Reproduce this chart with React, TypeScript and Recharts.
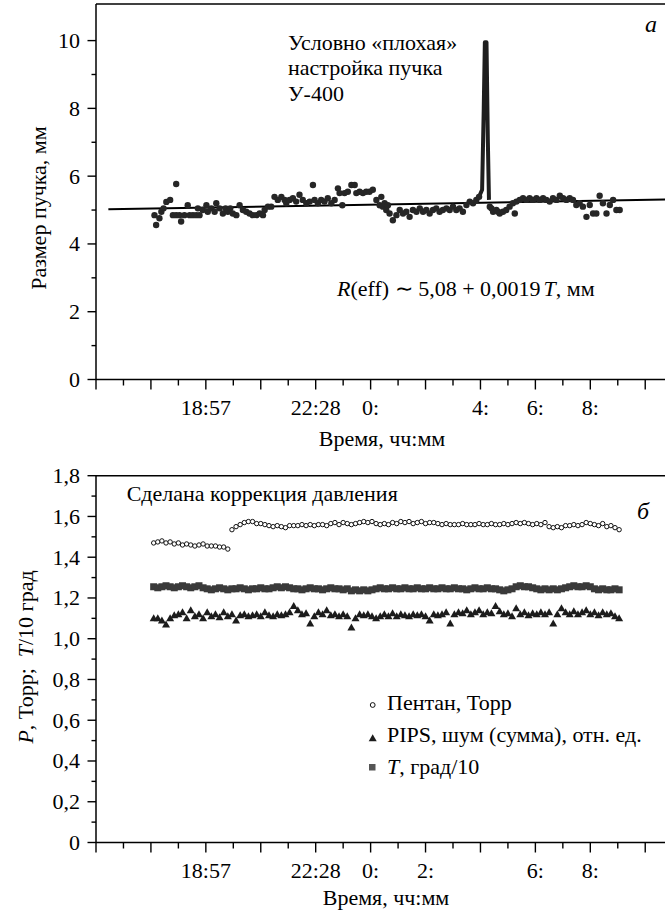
import React from 'react';
import { ComposedChart, Scatter, Line, XAxis, YAxis, ReferenceLine } from 'recharts';

const FONT = 'Liberation Serif';

// ---------- Panel a: beam size ----------
// [time (h from 14:00), beam size (mm)]
const beamPoints: [number, number][] = [
  [2.13, 4.85], [2.19, 4.56], [2.31, 4.76], [2.38, 4.95], [2.46, 5.05], [2.56, 5.24], [2.70, 5.3],
  [2.80, 4.85], [2.92, 5.77], [2.92, 4.85], [3.04, 4.85], [3.10, 4.66], [3.22, 4.85], [3.34, 5.14],
  [3.41, 4.85], [3.53, 4.85], [3.65, 4.85], [3.71, 5.05], [3.77, 4.85], [3.89, 5.0], [4.02, 5.14],
  [4.07, 4.95], [4.20, 5.05], [4.32, 4.95], [4.38, 5.2], [4.50, 5.05], [4.62, 4.9], [4.72, 5.05],
  [4.80, 4.95], [4.89, 5.05], [4.98, 4.9], [5.11, 4.85], [5.23, 5.14], [5.35, 5.0], [5.47, 4.95],
  [5.59, 4.9], [5.71, 4.85], [5.84, 4.85], [5.96, 4.9], [6.08, 4.85], [6.14, 5.0], [6.26, 5.1],
  [6.38, 5.1], [6.50, 5.39], [6.62, 5.3], [6.75, 5.39], [6.87, 5.3], [6.93, 5.2], [7.05, 5.3],
  [7.17, 5.35], [7.29, 5.25], [7.41, 5.45], [7.53, 5.3], [7.66, 5.2], [7.78, 5.25], [7.90, 5.74],
  [7.96, 5.3], [8.08, 5.2], [8.20, 5.3], [8.32, 5.25], [8.44, 5.35], [8.57, 5.2], [8.69, 5.3],
  [8.81, 5.64], [8.87, 5.5], [8.97, 5.14], [9.05, 5.5], [9.17, 5.54], [9.30, 5.74], [9.42, 5.74],
  [9.48, 5.5], [9.60, 5.54], [9.72, 5.5], [9.84, 5.54], [9.96, 5.54], [10.08, 5.6], [10.21, 5.3],
  [10.33, 5.14], [10.39, 5.39], [10.45, 5.1], [10.51, 5.2], [10.57, 5.0], [10.63, 5.14], [10.69, 4.9],
  [10.81, 4.7], [10.94, 4.85], [11.06, 5.0], [11.18, 4.9], [11.30, 4.95], [11.42, 4.8], [11.54, 5.0],
  [11.67, 4.95], [11.79, 5.05], [11.91, 4.95], [12.03, 5.0], [12.15, 4.9], [12.27, 5.0], [12.39, 5.05],
  [12.51, 4.95], [12.63, 5.0], [12.76, 5.05], [12.88, 5.0], [13.00, 5.1], [13.12, 5.0], [13.24, 5.05],
  [13.36, 4.95], [13.49, 5.15], [13.61, 5.25], [13.73, 5.2], [13.85, 5.3], [13.95, 5.39],
  [14.34, 5.1], [14.40, 5.05], [14.46, 4.95], [14.58, 5.0], [14.64, 4.95], [14.70, 4.9], [14.82, 4.95],
  [14.94, 5.0], [15.06, 5.1], [15.18, 5.2], [15.25, 4.9], [15.31, 5.25], [15.43, 5.3], [15.55, 5.35],
  [15.67, 5.3], [15.79, 5.35], [15.91, 5.3], [16.04, 5.35], [16.16, 5.3], [16.28, 5.35], [16.40, 5.3],
  [16.52, 5.25], [16.64, 5.35], [16.77, 5.3], [16.89, 5.42], [17.01, 5.35], [17.13, 5.3], [17.25, 5.35],
  [17.37, 5.3], [17.49, 5.15], [17.61, 5.2], [17.73, 5.1], [17.86, 4.8], [17.98, 5.15], [18.10, 4.9],
  [18.22, 4.9], [18.34, 5.42], [18.46, 5.2], [18.59, 4.9], [18.71, 5.15], [18.83, 5.3], [18.95, 5.0],
  [19.07, 5.0],
];
const spikeTimes = [13.95, 14.06, 14.12, 14.16, 14.22, 14.27, 14.31];
const spikeValues = [5.39, 5.6, 8.0, 9.95, 9.95, 7.0, 5.3];
const trendTimes = [0.45, 20.72];
const trendValues = [5.02, 5.31];

// ---------- Panel б: pressure / noise / temperature ----------
const sampleTimes = [
  2.10, 2.25, 2.40, 2.55, 2.70, 2.85, 3.00, 3.15, 3.30, 3.45, 3.60, 3.75, 3.90, 4.05, 4.20, 4.35, 4.50, 4.65, 4.80, 4.95,
  5.10, 5.25, 5.40, 5.55, 5.70, 5.85, 6.00, 6.15, 6.30, 6.45, 6.60, 6.75, 6.90, 7.05, 7.20, 7.35, 7.50, 7.65, 7.80, 7.95,
  8.10, 8.25, 8.40, 8.55, 8.70, 8.85, 9.00, 9.15, 9.30, 9.45, 9.60, 9.75, 9.90, 10.05, 10.20, 10.35, 10.50, 10.65, 10.80, 10.95,
  11.10, 11.25, 11.40, 11.55, 11.70, 11.85, 12.00, 12.15, 12.30, 12.45, 12.60, 12.75, 12.90, 13.05, 13.20, 13.35, 13.50, 13.65, 13.80, 13.95,
  14.10, 14.25, 14.40, 14.55, 14.70, 14.85, 15.00, 15.15, 15.30, 15.45, 15.60, 15.75, 15.90, 16.05, 16.20, 16.35, 16.50, 16.65, 16.80, 16.95,
  17.10, 17.25, 17.40, 17.55, 17.70, 17.85, 18.00, 18.15, 18.30, 18.45, 18.60, 18.75, 18.90, 19.05,
];
const pentaneValues = [
  1.47, 1.475, 1.48, 1.47, 1.475, 1.465, 1.47, 1.46, 1.465, 1.46, 1.455, 1.46, 1.465, 1.455, 1.455, 1.455, 1.45, 1.45, 1.44,
  1.535, 1.55, 1.56, 1.57, 1.575, 1.575, 1.565, 1.565, 1.56, 1.555, 1.55, 1.555, 1.55, 1.545, 1.555, 1.555,
  1.555, 1.56, 1.555, 1.56, 1.555, 1.56, 1.56, 1.555,
  1.565, 1.57, 1.56, 1.57, 1.565, 1.56, 1.565,
  1.57, 1.575, 1.57, 1.575,
  1.565, 1.56, 1.565, 1.56, 1.57, 1.565,
  1.575, 1.57, 1.575,
  1.565, 1.57, 1.575, 1.565, 1.57, 1.57,
  1.565, 1.56, 1.565, 1.56, 1.56, 1.56, 1.565, 1.56, 1.56, 1.56, 1.565, 1.56,
  1.56, 1.565, 1.56, 1.56, 1.565, 1.56, 1.565,
  1.57, 1.565, 1.57, 1.565,
  1.56, 1.565, 1.56, 1.57,
  1.55, 1.545, 1.55, 1.545,
  1.555, 1.555, 1.56, 1.555, 1.56,
  1.57, 1.565, 1.56,
  1.555, 1.565, 1.55, 1.555,
  1.545, 1.535,
];
const pipsValues = [
  1.10, 1.10, 1.09, 1.07, 1.10, 1.115, 1.12, 1.13, 1.10, 1.14,
  1.11, 1.12, 1.10, 1.13, 1.11, 1.12, 1.105, 1.13, 1.11, 1.12,
  1.09, 1.115, 1.12, 1.11, 1.115, 1.12, 1.11, 1.13, 1.115, 1.11,
  1.12, 1.115, 1.12, 1.13, 1.16, 1.14, 1.12, 1.125, 1.075, 1.11,
  1.13, 1.12, 1.14, 1.115, 1.12, 1.11, 1.12, 1.11, 1.055, 1.10,
  1.12, 1.115, 1.12, 1.11, 1.10, 1.11, 1.12, 1.11, 1.125, 1.11,
  1.12, 1.115, 1.11, 1.12, 1.115, 1.12, 1.11, 1.09, 1.12, 1.115,
  1.12, 1.13, 1.075, 1.12, 1.13, 1.125, 1.14, 1.12, 1.13, 1.14,
  1.12, 1.13, 1.125, 1.16, 1.135, 1.12, 1.125, 1.11, 1.15, 1.12,
  1.13, 1.115, 1.125, 1.12, 1.13, 1.12, 1.13, 1.075, 1.12, 1.15,
  1.13, 1.12, 1.135, 1.12, 1.13, 1.14, 1.12, 1.13, 1.115, 1.13,
  1.12, 1.125, 1.11, 1.10,
];
const tempValues = [
  1.255, 1.25, 1.255, 1.26, 1.255, 1.25, 1.255, 1.26, 1.255, 1.25, 1.255, 1.26, 1.25,
  1.245, 1.24, 1.245, 1.25, 1.245, 1.24, 1.245, 1.245, 1.25, 1.245, 1.24, 1.245, 1.245, 1.25, 1.245, 1.245,
  1.25, 1.255, 1.25, 1.255, 1.25,
  1.245, 1.245, 1.24, 1.245, 1.25, 1.245, 1.245, 1.24, 1.245, 1.25, 1.245, 1.245, 1.24, 1.245,
  1.235, 1.24, 1.235, 1.24, 1.235, 1.24,
  1.245, 1.25, 1.245, 1.245, 1.25, 1.245, 1.245, 1.25, 1.245, 1.245,
  1.25, 1.245, 1.245, 1.25, 1.245, 1.245, 1.25, 1.245, 1.245, 1.25,
  1.245, 1.245, 1.24, 1.245, 1.25, 1.245, 1.245, 1.25, 1.245, 1.245,
  1.24, 1.235, 1.24, 1.245,
  1.255, 1.26, 1.255, 1.255, 1.25,
  1.245, 1.24, 1.245, 1.24, 1.245, 1.24, 1.245,
  1.25, 1.255, 1.26, 1.255, 1.255, 1.26, 1.255,
  1.245, 1.24, 1.245, 1.24, 1.24, 1.245, 1.24,
];

// ---------- Axes ----------
const xTicks = [0, 1, 2, 3, 4, 5, 6, 7, 8, 9, 10, 11, 12, 13, 14, 15, 16, 17, 18, 19, 20];
const xLabelsTop = ['', '', '', '', '18:57', '', '', '', '22:28', '', '0:', '', '', '', '4:', '', '6:', '', '8:', '', ''];
const xLabelsBottom = ['', '', '', '', '18:57', '', '', '', '22:28', '', '0:', '', '2:', '', '', '', '6:', '', '8:', '', ''];
const X_DOMAIN: [number, number] = [0, 20.72];

const yTicksTop = [0, 1, 2, 3, 4, 5, 6, 7, 8, 9, 10];
const yLabelsTop = ['0', '', '2', '', '4', '', '6', '', '8', '', '10'];
const Y_TOP_DOMAIN: [number, number] = [0, 11.08];

const yTicksBottom = [0, 0.1, 0.2, 0.3, 0.4, 0.5, 0.6, 0.7, 0.8, 0.9, 1.0, 1.1, 1.2, 1.3, 1.4, 1.5, 1.6, 1.7, 1.8];
const yLabelsBottom = ['0', '', '0,2', '', '0,4', '', '0,6', '', '0,8', '', '1,0', '', '1,2', '', '1,4', '', '1,6', '', '1,8'];
const Y_BOTTOM_DOMAIN: [number, number] = [0, 1.8];

const beamData = beamPoints.map(([h, v]) => ({ h, v }));
const spikeData = spikeTimes.map((h, i) => ({ h, v: spikeValues[i] }));
const trendData = trendTimes.map((h, i) => ({ h, v: trendValues[i] }));
const pentaneData = sampleTimes.map((h, i) => ({ h, v: pentaneValues[i] }));
const pipsData = sampleTimes.map((h, i) => ({ h, v: pipsValues[i] }));
const tempData = sampleTimes.map((h, i) => ({ h, v: tempValues[i] }));

const makeXTick = (labels: string[]) => (props: any) => {
  const { x, y, payload } = props;
  const i = xTicks.indexOf(payload.value);
  const major = i % 2 === 0;
  const label = labels[i] || '';
  return (
    <g>
      <line x1={x} x2={x} y1={y} y2={y + (major ? 10 : 6)} stroke="#000" strokeWidth={1.4} />
      {label ? (
        <text x={x} y={y + 35} textAnchor="middle" fontFamily={FONT} fontSize={22} fill="#000">
          {label}
        </text>
      ) : null}
    </g>
  );
};

const makeYTick = (ticks: number[], labels: string[]) => (props: any) => {
  const { x, y, payload } = props;
  const i = ticks.findIndex((t) => Math.abs(t - payload.value) < 1e-6);
  const major = i % 2 === 0;
  const label = labels[i] || '';
  return (
    <g>
      <line x1={x} x2={x - (major ? 8.5 : 4.5)} y1={y} y2={y} stroke="#000" strokeWidth={1.4} />
      {label ? (
        <text x={x - 16} y={y + 7.5} textAnchor="end" fontFamily={FONT} fontSize={22} fill="#000">
          {label}
        </text>
      ) : null}
    </g>
  );
};

const Dot = (p: any) => <circle cx={p.cx} cy={p.cy} r={3.2} fill="#262626" />;
const OpenCircle = (p: any) => (
  <circle cx={p.cx} cy={p.cy} r={2.2} fill="#fff" stroke="#111" strokeWidth={1} />
);
const Tri = (p: any) => (
  <polygon
    points={`${p.cx},${p.cy - 4} ${p.cx + 4},${p.cy + 3} ${p.cx - 4},${p.cy + 3}`}
    fill="#1c1c1c"
  />
);
const Sq = (p: any) => <rect x={p.cx - 3.5} y={p.cy - 3.5} width={7} height={7} fill="#3a3a3a" />;

const axisLine = { stroke: '#000', strokeWidth: 1.5 };

// HTML text placed by its baseline (serif metrics: ascent ~0.891em with line-height 1)
function HText(props: {
  x: number;
  baseline: number;
  size?: number;
  italic?: boolean;
  center?: boolean;
  children: React.ReactNode;
}) {
  const size = props.size || 22;
  const top = props.baseline - size * 0.838;
  return (
    <div
      style={{
        position: 'absolute',
        left: props.x,
        top,
        fontFamily: FONT,
        fontSize: size,
        lineHeight: `${size}px`,
        fontStyle: props.italic ? 'italic' : 'normal',
        whiteSpace: 'nowrap',
        color: '#000',
        transform: props.center ? 'translateX(-50%)' : undefined,
      }}
    >
      {props.children}
    </div>
  );
}

// vertical (rotated) HTML text: baselineX is where the baseline lies, cy its centre
function VText(props: { baselineX: number; cy: number; children: React.ReactNode }) {
  const size = 22;
  const cx = props.baselineX - size * 0.338;
  return (
    <div
      style={{
        position: 'absolute',
        left: cx,
        top: props.cy,
        fontFamily: FONT,
        fontSize: size,
        lineHeight: `${size}px`,
        whiteSpace: 'nowrap',
        color: '#000',
        transform: 'translate(-50%, -50%) rotate(-90deg)',
      }}
    >
      {props.children}
    </div>
  );
}

const I = (p: { children: React.ReactNode }) => <span style={{ fontStyle: 'italic' }}>{p.children}</span>;

export default function App() {
  return (
    <div style={{ position: 'absolute', left: 0, top: 0, width: 665, height: 919, background: '#fff' }}>
      <div style={{ position: 'absolute', left: 0, top: 0 }}>
        <ComposedChart width={665} height={450} margin={{ top: 4, right: 0, bottom: 0, left: 0 }}>
          <XAxis
            dataKey="h"
            type="number"
            domain={X_DOMAIN}
            ticks={xTicks}
            interval={0}
            height={70.5}
            tickSize={0}
            tickMargin={0}
            tickLine={false}
            axisLine={axisLine}
            tick={makeXTick(xLabelsTop)}
            allowDataOverflow
          />
          <YAxis
            dataKey="v"
            type="number"
            domain={Y_TOP_DOMAIN}
            ticks={yTicksTop}
            interval={0}
            width={96}
            tickSize={0}
            tickMargin={0}
            tickLine={false}
            axisLine={axisLine}
            tick={makeYTick(yTicksTop, yLabelsTop)}
            allowDataOverflow
          />
          <ReferenceLine y={Y_TOP_DOMAIN[1]} stroke="#000" strokeWidth={1.5} />
          <Line data={trendData} dataKey="v" stroke="#000" strokeWidth={2} dot={false} isAnimationActive={false} />
          <Scatter data={beamData} dataKey="v" shape={Dot} isAnimationActive={false} />
          <Line
            data={spikeData}
            dataKey="v"
            stroke="#1e1e1e"
            strokeWidth={4}
            strokeLinejoin="round"
            dot={false}
            isAnimationActive={false}
          />
        </ComposedChart>
      </div>
      <div style={{ position: 'absolute', left: 0, top: 450 }}>
        <ComposedChart width={665} height={469} margin={{ top: 25.7, right: 0, bottom: 0, left: 0 }}>
          <XAxis
            dataKey="h"
            type="number"
            domain={X_DOMAIN}
            ticks={xTicks}
            interval={0}
            height={76.5}
            tickSize={0}
            tickMargin={0}
            tickLine={false}
            axisLine={axisLine}
            tick={makeXTick(xLabelsBottom)}
            allowDataOverflow
          />
          <YAxis
            dataKey="v"
            type="number"
            domain={Y_BOTTOM_DOMAIN}
            ticks={yTicksBottom}
            interval={0}
            width={96}
            tickSize={0}
            tickMargin={0}
            tickLine={false}
            axisLine={axisLine}
            tick={makeYTick(yTicksBottom, yLabelsBottom)}
            allowDataOverflow
          />
          <ReferenceLine y={Y_BOTTOM_DOMAIN[1]} stroke="#000" strokeWidth={1.5} />
          <Scatter data={tempData} dataKey="v" shape={Sq} isAnimationActive={false} />
          <Scatter data={pipsData} dataKey="v" shape={Tri} isAnimationActive={false} />
          <Scatter data={pentaneData} dataKey="v" shape={OpenCircle} isAnimationActive={false} />
        </ComposedChart>
      </div>

      {/* legend symbols */}
      <svg width={665} height={919} style={{ position: 'absolute', left: 0, top: 0, pointerEvents: 'none' }}>
        <circle cx={372.7} cy={705} r={2.4} fill="#fff" stroke="#111" strokeWidth={1} />
        <polygon points="372.7,734.3 376.7,741.3 368.7,741.3" fill="#1c1c1c" />
        <rect x={369} y={764} width={6.5} height={6.5} fill="#555" />
      </svg>

      {/* panel a texts */}
      <HText x={645} baseline={32} size={24} italic>a</HText>
      <HText x={288} baseline={50}>Условно «плохая»</HText>
      <HText x={288} baseline={75.5}>настройка пучка</HText>
      <HText x={288} baseline={101}>У-400</HText>
      <HText x={337} baseline={296}>
        <I>R</I>(eff) ∼ 5,08 + 0,0019<span style={{ marginLeft: 3 }}><I>T</I></span>, мм
      </HText>
      <VText baselineX={46.5} cy={208}>Размер пучка, мм</VText>
      <HText x={382} baseline={446} center>Время, чч:мм</HText>

      {/* panel б texts */}
      <HText x={126.7} baseline={501.7}>Сделана коррекция давления</HText>
      <HText x={637} baseline={519} size={24} italic>б</HText>
      <VText baselineX={33} cy={657}>
        <I>P</I>, Торр;&nbsp; <I>T</I>/10 град
      </VText>
      <HText x={386} baseline={905} center>Время, чч:мм</HText>

      {/* legend texts */}
      <HText x={387} baseline={710.7}>Пентан, Торр</HText>
      <HText x={387} baseline={742.7}>PIPS, шум (сумма), отн. ед.</HText>
      <HText x={387} baseline={774.3}>
        <I>T</I>, град/10
      </HText>
    </div>
  );
}
